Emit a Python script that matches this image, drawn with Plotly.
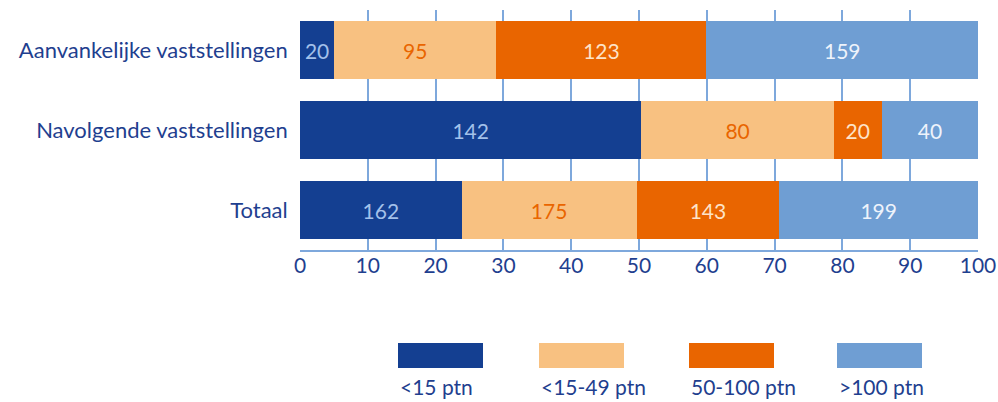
import plotly.graph_objects as go

# Categories (top to bottom) and counts per size class
categories = ["Aanvankelijke vaststellingen", "Navolgende vaststellingen", "Totaal"]
series_names = ["<15 ptn", "<15-49 ptn", "50-100 ptn", ">100 ptn"]
counts_lt15 = [20, 142, 162]
counts_15_49 = [95, 80, 175]
counts_50_100 = [123, 20, 143]
counts_gt100 = [159, 40, 199]
x_ticks = [0, 10, 20, 30, 40, 50, 60, 70, 80, 90, 100]

series_counts = [counts_lt15, counts_15_49, counts_50_100, counts_gt100]
bar_colors = ["#143f91", "#f8c181", "#e96500", "#6f9ed3"]
label_colors = ["#a3c1ea", "#e96500", "#fde3c8", "#eef3fb"]

TEXT_BLUE = "#1f3f8f"
GRID_BLUE = "#7ea8dc"
FONT = "Lato"

W, H = 998, 402
L, R, T, B = 300, 20, 10, 152

# Row totals for the 100% stacking
totals = [sum(col) for col in zip(*series_counts)]

fig = go.Figure()
for name, counts, color, lcolor in zip(series_names, series_counts, bar_colors, label_colors):
    shares = [c / t * 100 for c, t in zip(counts, totals)]
    fig.add_trace(go.Bar(
        y=categories,
        x=shares,
        orientation="h",
        name=name,
        marker=dict(color=color, line=dict(width=0)),
        width=0.725,
        text=[str(c) for c in counts],
        textposition="inside",
        insidetextanchor="middle",
        textangle=0,
        constraintext="none",
        textfont=dict(family=FONT, size=21, color=lcolor),
        hoverinfo="skip",
    ))

# Legend: swatch with its label underneath (pixel positions converted to paper coords)
def px_x(px):
    return (px - L) / (W - L - R)

def px_y(py):
    return (H - B - py) / (H - T - B)

legend_left = [398, 539, 689, 837]
shapes = []
annotations = []
for left, name, color in zip(legend_left, series_names, bar_colors):
    shapes.append(dict(
        type="rect", xref="paper", yref="paper",
        x0=px_x(left), x1=px_x(left + 85),
        y0=px_y(368), y1=px_y(343),
        fillcolor=color, line=dict(width=0), layer="above",
    ))
    annotations.append(dict(
        xref="paper", yref="paper",
        x=px_x(left), y=px_y(401),
        xanchor="left", yanchor="bottom",
        text=name, showarrow=False,
        font=dict(family=FONT, size=21, color=TEXT_BLUE),
    ))

fig.update_layout(
    barmode="stack",
    width=W, height=H,
    margin=dict(l=L, r=R, t=T, b=B, pad=0),
    paper_bgcolor="white",
    plot_bgcolor="white",
    showlegend=False,
    font=dict(family=FONT, color=TEXT_BLUE),
    shapes=shapes,
    annotations=annotations,
    bargap=0.275,
)
fig.update_xaxes(
    range=[0, 100],
    tickvals=x_ticks,
    showgrid=True, gridcolor=GRID_BLUE, gridwidth=1.5,
    showline=True, linecolor=GRID_BLUE, linewidth=1.5,
    zeroline=False,
    ticks="", ticklen=0,
    ticklabelstandoff=-4,
    tickfont=dict(family=FONT, size=21, color=TEXT_BLUE),
    automargin=False,
    fixedrange=True,
)
fig.update_yaxes(
    categoryorder="array",
    categoryarray=categories,
    autorange="reversed",
    range=[2.5, -0.5],
    showgrid=False, zeroline=False, showline=False,
    ticks="", ticklen=0,
    ticksuffix="  ",
    tickfont=dict(family=FONT, size=22, color=TEXT_BLUE),
    automargin=False,
    fixedrange=True,
)

fig.write_html("out.html")
